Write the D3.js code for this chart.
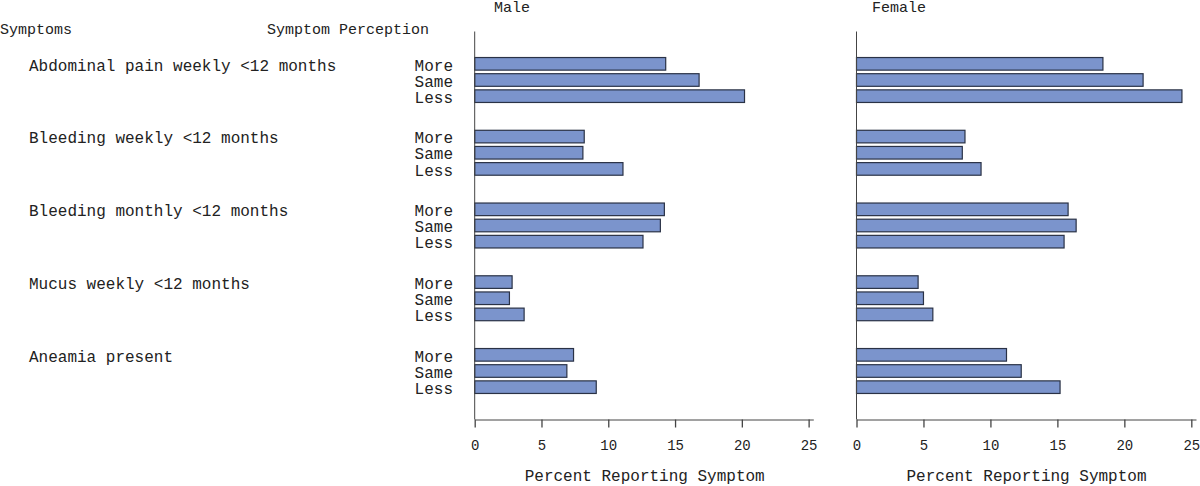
<!DOCTYPE html>
<html>
<head>
<meta charset="utf-8">
<script src="https://cdn.jsdelivr.net/npm/d3@7"></script>
<style>
  body { margin: 0; background: #fff; }
  text { font-family: "Courier New", "Liberation Mono", monospace; fill: #222; }
</style>
</head>
<body>
<div id="chart"></div>
<script>
// data
var symptoms = ['Abdominal pain weekly <12 months', 'Bleeding weekly <12 months',
                'Bleeding monthly <12 months', 'Mucus weekly <12 months', 'Aneamia present'];
var perceptions = ['More', 'Same', 'Less'];
var maleValues = [
  [14.3, 16.8, 20.2],
  [8.2, 8.1, 11.1],
  [14.2, 13.9, 12.6],
  [2.8, 2.6, 3.7],
  [7.4, 6.9, 9.1]
];
var femaleValues = [
  [18.4, 21.4, 24.3],
  [8.1, 7.9, 9.3],
  [15.8, 16.4, 15.5],
  [4.6, 5.0, 5.7],
  [11.2, 12.3, 15.2]
];
var tickValues = [0, 5, 10, 15, 20, 25];

var width = 1200, height = 486;
var barFill = '#7b94cc', barStroke = '#2a3246';

var svg = d3.select('#chart').append('svg')
    .attr('width', width)
    .attr('height', height);

// row position: each group takes 4.5 slots (3 bars + gap)
function rowIndex(i, j) { return i * 4.5 + j; }
var yScale = d3.scaleLinear()
    .domain([-2, 22])
    .range([31.5, 419.5]);
var barH = 12.6;

// headers
svg.append('text').attr('x', 0).attr('y', 34).style('font-size', '15px').text('Symptoms');
svg.append('text').attr('x', 267).attr('y', 34).style('font-size', '15px').text('Symptom Perception');

// row labels
symptoms.forEach(function(s, i) {
    svg.append('text')
        .attr('x', 29)
        .attr('y', yScale(rowIndex(i, 0)))
        .attr('dy', '0.42em')
        .style('font-size', '16px')
        .text(s);
    perceptions.forEach(function(p, j) {
        svg.append('text')
            .attr('x', 453)
            .attr('y', yScale(rowIndex(i, j)))
            .attr('dy', '0.42em')
            .attr('text-anchor', 'end')
            .style('font-size', '16px')
            .text(p);
    });
});

function drawPanel(title, values, x0, x1, titleX) {
    var xScale = d3.scaleLinear()
        .domain([0, 25.35])
        .range([x0, x1]);

    var g = svg.append('g');

    g.append('text')
        .attr('x', titleX)
        .attr('y', 12)
        .style('font-size', '15px')
        .text(title);

    // bars
    values.forEach(function(row, i) {
        g.selectAll('.bar' + i)
            .data(row)
            .enter().append('rect')
            .attr('class', 'bar' + i)
            .attr('x', xScale(0))
            .attr('y', function(d, j) { return yScale(rowIndex(i, j)) - barH / 2; })
            .attr('width', function(d) { return xScale(d) - xScale(0); })
            .attr('height', barH)
            .attr('fill', barFill)
            .attr('stroke', barStroke)
            .attr('stroke-width', 1.2);
    });

    // vertical line
    g.append('line')
        .attr('x1', xScale(0)).attr('x2', xScale(0))
        .attr('y1', yScale(-2)).attr('y2', yScale(22))
        .attr('stroke', '#444');

    // x axis
    var xAxis = d3.axisBottom(xScale)
        .tickValues(tickValues)
        .tickSizeInner(8)
        .tickSizeOuter(0)
        .tickPadding(13);

    var ax = g.append('g')
        .attr('transform', 'translate(0,' + yScale(22) + ')')
        .call(xAxis);
    ax.select('.domain').attr('stroke', '#444');
    ax.selectAll('.tick line').attr('stroke', '#444').attr('stroke-width', 1.3);
    ax.selectAll('.tick text')
        .style('font-family', '"Courier New", "Liberation Mono", monospace')
        .style('font-size', '14px')
        .attr('fill', '#222');

    g.append('text')
        .attr('x', xScale(0) + 170)
        .attr('y', 481)
        .attr('text-anchor', 'middle')
        .style('font-size', '16px')
        .text('Percent Reporting Symptom');
}

drawPanel('Male', maleValues, 474.7, 813.3, 494);
drawPanel('Female', femaleValues, 856.5, 1196, 872);
</script>
</body>
</html>
